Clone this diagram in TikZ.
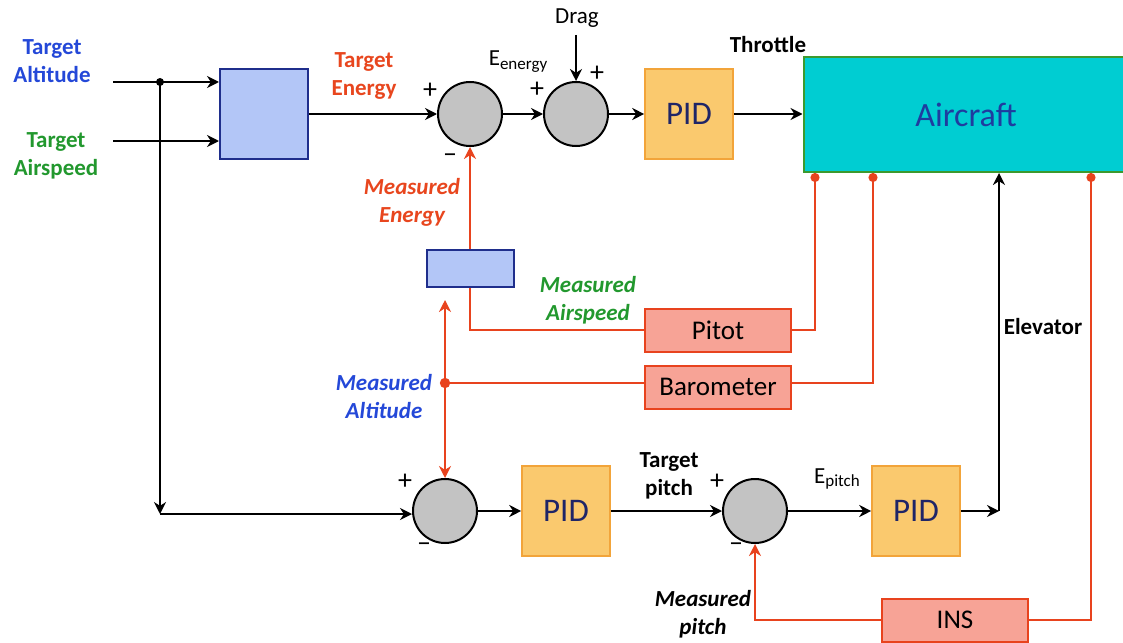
\documentclass[tikz,border=0pt]{standalone}
\usepackage{fontspec}
\setmainfont{Carlito}
\usepackage{tikz}
\usetikzlibrary{arrows.meta,positioning,calc}
\definecolor{labblue}{HTML}{2448D8}
\definecolor{labgreen}{HTML}{22982E}
\definecolor{labred}{HTML}{E8461E}
\definecolor{redline}{HTML}{E8431E}
\definecolor{convfill}{HTML}{B3C6F7}
\definecolor{convline}{HTML}{1F2E8C}
\definecolor{sumgray}{HTML}{C3C3C3}
\definecolor{pidfill}{HTML}{FAC96E}
\definecolor{pidline}{HTML}{F2A43A}
\definecolor{pidtext}{HTML}{1F2567}
\definecolor{planefill}{HTML}{00CDD2}
\definecolor{planeline}{HTML}{3C9A2E}
\definecolor{planetext}{HTML}{1F3C9F}
\definecolor{sensfill}{HTML}{F7A396}
\newcommand{\lowtxt}[1]{\raisebox{-0.35ex}{\fontsize{8.5}{9}\selectfont #1}}

\begin{document}
\begin{tikzpicture}[x=0.5pt,y=-0.5pt,
 font=\fontsize{11.5}{14}\selectfont,
 lab/.style={font=\fontsize{11.5}{14}\selectfont\bfseries,align=center},
 mlab/.style={font=\fontsize{11.5}{14}\selectfont\bfseries\itshape,align=center},
 pm/.style={font=\fontsize{14}{14}\selectfont},
 sum/.style={circle,draw,line width=1pt,fill=sumgray,minimum size=32pt,inner sep=0pt},
 ctl/.style={draw=pidline,fill=pidfill,line width=0.8pt,minimum width=44pt,minimum height=45pt,text=pidtext,font=\fontsize{16.5}{18}\selectfont},
 sens/.style={draw=redline,fill=sensfill,line width=1pt,minimum width=73pt,minimum height=21.5pt,font=\fontsize{13.5}{15}\selectfont},
 conv/.style={draw=convline,fill=convfill,line width=1pt},
 arr/.style={-{Stealth[length=6pt,width=6pt]},line width=1pt},
 fb/.style={draw=redline,line width=1pt},
 tap/.style={fb,{Circle[length=4.5pt]}-}
]
\useasboundingbox (0,0) rectangle (1123,642);
\node[conv,minimum width=44pt,minimum height=44.5pt] (mix) at (264,114) {};
\node[sum] (sumE) at (470,114) {};
\node[sum] (sumD) at (576,114) {};
\node[ctl] (pidT) at (689,114) {PID};
\node[draw=planeline,fill=planefill,line width=1pt,minimum width=162.5pt,minimum height=57.5pt,text=planetext,font=\fontsize{17}{19}\selectfont] (plane) at (966,114.5) {Aircraft};
\node[conv,minimum width=43.5pt,minimum height=18.5pt] (ebox) at (470,268) {};
\node[sens] (pitot) at (718,330) {Pitot};
\node[sens] (baro) at (718,387) {Barometer};
\node[sum] (sumA) at (445,511) {};
\node[ctl] (pidA) at (566,511) {PID};
\node[sum] (sumP) at (755,511) {};
\node[ctl] (pidP) at (916,511) {PID};
\node[sens] (ins) at (955,620) {INS};

\coordinate (inA) at (113,82);
\coordinate (inS) at (113,141);
\coordinate (split) at (160,82);
\coordinate (down) at (160,514);
\coordinate (drag) at (576,35);
\coordinate (alt) at (445,383);
\coordinate (altup) at (445,300);
\coordinate (elev) at (999,511);
\coordinate (tP) at (815,0);
\coordinate (tB) at (873,0);
\coordinate (tI) at (1091,0);

\draw[arr] (inA) -- (inA -| mix.west);
\draw[arr] (inS) -- (inS -| mix.west);
\fill (split) circle (2pt);
\draw[arr] (split) -- (down);
\draw[arr] (down) -- (down -| sumA.west);
\draw[arr] (mix) -- (sumE);
\draw[arr] (sumE) -- (sumD);
\draw[arr] (drag) -- (sumD);
\draw[arr] (sumD) -- (pidT);
\draw[arr] (pidT) -- (plane.west |- pidT);

\draw[arr,fb] (ebox) -- (sumE);
\draw[tap] (tP |- plane.south) |- (pitot.east);
\draw[fb] (pitot.west) -| (ebox.south);
\draw[tap] (tB |- plane.south) |- (alt -| baro.east);
\draw[fb] (alt) -- (alt -| baro.west);
\fill[redline] (alt) circle (2.6pt);
\draw[arr,fb,line width=1.3pt] (alt) -- (altup);
\draw[arr,fb,line width=1.3pt] (alt) -- (sumA);

\draw[arr] (sumA) -- (pidA);
\draw[arr] (pidA) -- (sumP);
\draw[arr] (sumP) -- (pidP);
\draw[arr] (pidP) -- (elev);
\draw[arr] (elev) -- (elev |- plane.south);
\draw[tap] (tI |- plane.south) |- (ins.east);
\draw[arr,fb] (ins.west) -| (sumP.south);

\node[lab,text=labblue] (tAlt) at (52,61) {Target\\Altitude};
\node[lab,text=labgreen] (tSpd) at (56,156) {Target\\Airspeed};
\node[lab,text=labred] (tEn) at (364,76) {Target\\Energy};
\node[mlab,text=labred] (mEn) at (412,202) {Measured\\Energy};
\node[mlab,text=labgreen] (mSpd) at (588,300) {Measured\\Airspeed};
\node[mlab,text=labblue] (mAlt) at (384,397) {Measured\\Altitude};
\node[mlab] (mPit) at (703,614) {Measured\\pitch};
\node[lab] (tPit) at (669,476) {Target\\pitch};
\node[lab] (thr) at (768,45) {Throttle};
\node[lab] (elv) at (1043,327) {Elevator};
\node (dragl) at (577,18) {Drag};
\node (eEn) at (518,62) {E\lowtxt{energy}};
\node (ePit) at (837,479) {E\lowtxt{pitch}};

\node[pm] at (430,91) {+};
\node[pm] at (450,158) {--};
\node[pm] at (537,90) {+};
\node[pm] at (597,74) {+};
\node[pm] at (405,482) {+};
\node[pm] at (424,547) {--};
\node[pm] at (717,482) {+};
\node[pm] at (736,547) {--};
\end{tikzpicture}
\end{document}
